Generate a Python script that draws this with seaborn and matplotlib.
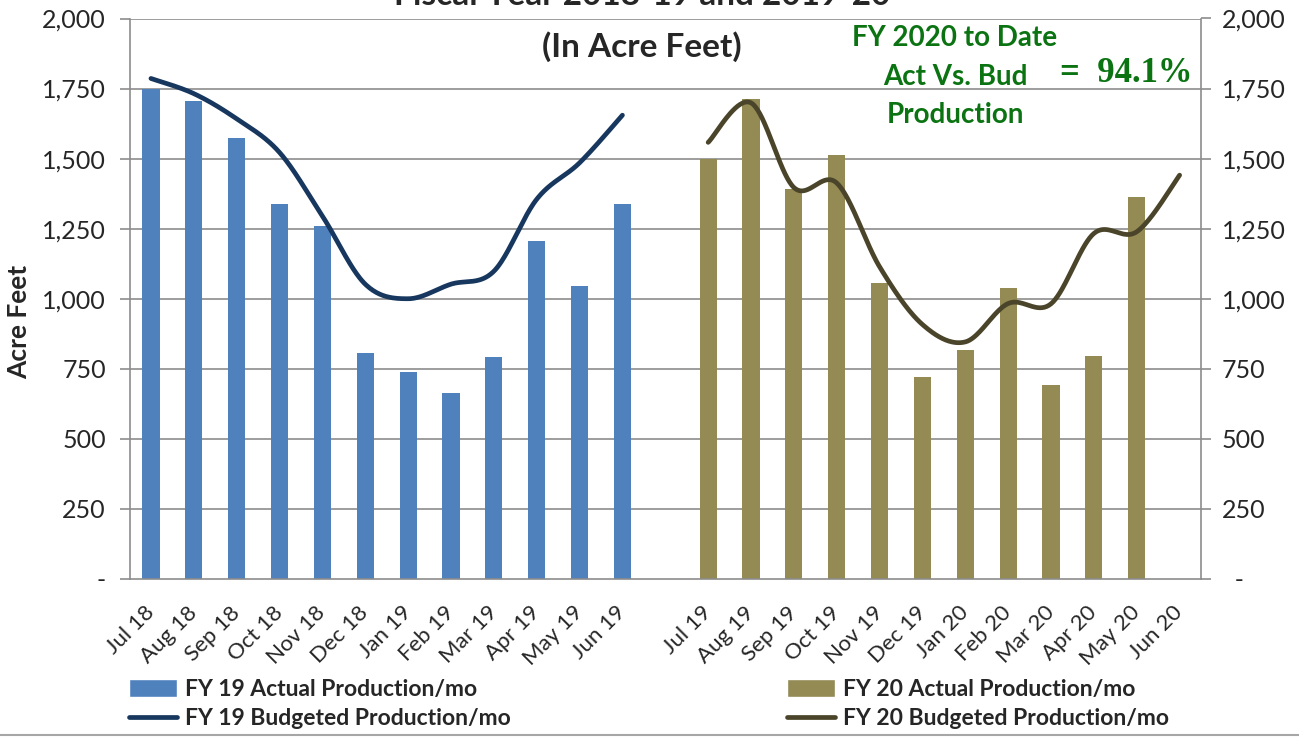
import numpy as np
import pandas as pd
import matplotlib
matplotlib.use("Agg")
import matplotlib.pyplot as plt
import seaborn as sns
from matplotlib.lines import Line2D
from matplotlib.patches import Patch

# values (acre feet)
fy19_months = ["Jul 18", "Aug 18", "Sep 18", "Oct 18", "Nov 18", "Dec 18",
               "Jan 19", "Feb 19", "Mar 19", "Apr 19", "May 19", "Jun 19"]
fy20_months = ["Jul 19", "Aug 19", "Sep 19", "Oct 19", "Nov 19", "Dec 19",
               "Jan 20", "Feb 20", "Mar 20", "Apr 20", "May 20", "Jun 20"]
fy19_actual = [1750, 1706, 1572, 1338, 1260, 808, 738, 662, 791, 1207, 1046, 1338]
fy19_budget = [1786, 1732, 1642, 1522, 1295, 1052, 1000, 1052, 1098, 1355, 1485, 1655]
fy20_actual = [1500, 1711, 1391, 1512, 1055, 720, 818, 1040, 691, 794, 1362, np.nan]
fy20_budget = [1558, 1699, 1397, 1413, 1114, 908, 846, 983, 982, 1233, 1239, 1441]
y_ticks = [0, 250, 500, 750, 1000, 1250, 1500, 1750, 2000]

BLUE = "#4F81BD"
NAVY = "#17375E"
OLIVE = "#948A54"
DARK_OLIVE = "#4A452A"
GRID = "#8C8C8C"
GREEN = "#0B7312"


def excel_smooth(x, y, n=40):
    """Bezier smoothing like Excel's 'smoothed line' option."""
    x = np.asarray(x, float)
    y = np.asarray(y, float)
    pts = np.column_stack([x, y])
    pad = np.vstack([pts[0], pts, pts[-1]])
    t = np.linspace(0, 1, n)[:, None]
    out = []
    for k in range(len(pts) - 1):
        p0, p1, p2, p3 = pad[k], pad[k + 1], pad[k + 2], pad[k + 3]
        c1 = p1 + (p2 - p0) / 6
        c2 = p2 - (p3 - p1) / 6
        seg = ((1 - t) ** 3) * p1 + 3 * ((1 - t) ** 2) * t * c1 + 3 * (1 - t) * t ** 2 * c2 + t ** 3 * p2
        out.append(seg if k == 0 else seg[1:])
    out = np.vstack(out)
    return out[:, 0], out[:, 1]


pos19 = np.arange(12)
pos20 = np.arange(13, 25)

bars = pd.DataFrame({
    "pos": np.concatenate([pos19, pos20]),
    "value": fy19_actual + fy20_actual,
    "fy": ["FY19"] * 12 + ["FY20"] * 12,
}).dropna()

sns.set_style("white")
plt.rcParams["font.family"] = ["Lato", "DejaVu Sans"]

fig = plt.figure(figsize=(12.99, 7.40), dpi=100)
ax = fig.add_axes([0.0997, 0.2176, 0.9246 - 0.0997, 0.975 - 0.2176])

sns.barplot(data=bars, x="pos", y="value", hue="fy", palette=[BLUE, OLIVE],
            native_scale=True, width=0.4, dodge=False, saturation=1,
            legend=False, linewidth=0, ax=ax)

x19, y19 = excel_smooth(pos19, fy19_budget)
x20, y20 = excel_smooth(pos20, fy20_budget)
sns.lineplot(x=x19, y=y19, sort=False, color=NAVY, linewidth=3.4,
             solid_capstyle="round", ax=ax)
sns.lineplot(x=x20, y=y20, sort=False, color=DARK_OLIVE, linewidth=3.4,
             solid_capstyle="round", ax=ax)

ax.set_xlim(-0.5, 24.5)
ax.set_ylim(0, 2000)
ax.set_xlabel("")
ax.set_ylabel("")

# gridlines
for v in y_ticks[1:]:
    ax.axhline(v, color=GRID, linewidth=1.2, zorder=0)

for side in ["left", "right", "bottom"]:
    ax.spines[side].set_color(GRID)
    ax.spines[side].set_linewidth(1.2)
ax.spines["top"].set_visible(False)

ylabels = ["-" if v == 0 else f"{v:,}" for v in y_ticks]
ax.set_yticks(y_ticks)
ax.set_yticklabels(ylabels, fontsize=18)
ax.tick_params(axis="y", direction="out", length=7, width=1.2, color=GRID, pad=10)

ax2 = ax.twinx()
ax2.set_ylim(0, 2000)
ax2.set_yticks(y_ticks)
ax2.set_yticklabels(["  -" if v == 0 else f"{v:,}" for v in y_ticks], fontsize=18)
ax2.tick_params(axis="y", direction="out", length=7, width=1.2, color=GRID, pad=8)
for side in ["left", "right", "top", "bottom"]:
    ax2.spines[side].set_visible(False)

# month labels
all_pos = list(pos19) + [12] + list(pos20)
all_labels = fy19_months + [""] + fy20_months
ax.set_xticks(all_pos)
ax.set_xticklabels(all_labels, rotation=45, ha="right", va="center",
                   rotation_mode="anchor", fontsize=16)
ax.tick_params(axis="x", which="major", length=0, pad=22)
ax.set_xticks(np.arange(-0.5, 25, 1), minor=True)
ax.tick_params(axis="x", which="minor", direction="out", length=6, width=1.2, color=GRID)

fig.text(0.0145, 0.565, "Acre Feet", rotation=90, ha="center", va="center",
         fontsize=19, fontweight="bold")

# title (top line is clipped by the canvas edge, as in the source)
fig.text(0.494, 1 - 5 / 740, "Fiscal Year 2018-19 and 2019-20", ha="center",
         va="baseline", fontsize=24, fontweight="bold")
fig.text(0.494, 1 - 47 / 740, "(In Acre Feet)", ha="center", va="center",
         fontsize=24, fontweight="bold")

# FY2020 to-date note
fig.text(955 / 1299, 1 - 38 / 740, "FY 2020 to Date", ha="center", va="center",
         fontsize=20, fontweight="bold", color=GREEN)
fig.text(955 / 1299, 1 - 77 / 740, "Act Vs. Bud", ha="center", va="center",
         fontsize=20, fontweight="bold", color=GREEN)
fig.text(955 / 1299, 1 - 115 / 740, "Production", ha="center", va="center",
         fontsize=20, fontweight="bold", color=GREEN)
fig.text(1126 / 1299, 1 - 73 / 740, "=  94.1%", ha="center", va="center",
         fontsize=25, fontweight="bold", color=GREEN, family="Liberation Serif")

# legends
leg_kw = dict(frameon=False, handlelength=2.1, handleheight=0.8,
              labelspacing=0.35, handletextpad=0.35, borderaxespad=0,
              prop={"weight": "bold", "size": 16.5})
h19 = [Patch(facecolor=BLUE), Line2D([], [], color=NAVY, linewidth=3.4)]
h20 = [Patch(facecolor=OLIVE), Line2D([], [], color=DARK_OLIVE, linewidth=3.4)]
fig.legend(h19, ["FY 19 Actual Production/mo", "FY 19 Budgeted Production/mo"],
           loc="upper left", bbox_to_anchor=(120 / 1299, 1 - 670 / 740), **leg_kw)
fig.legend(h20, ["FY 20 Actual Production/mo", "FY 20 Budgeted Production/mo"],
           loc="upper left", bbox_to_anchor=(778 / 1299, 1 - 670 / 740), **leg_kw)

fig.add_artist(Line2D([0, 1], [1 - 735 / 740] * 2, color="#A6A6A6", linewidth=1.5))

fig.savefig("out.png", dpi=100)
